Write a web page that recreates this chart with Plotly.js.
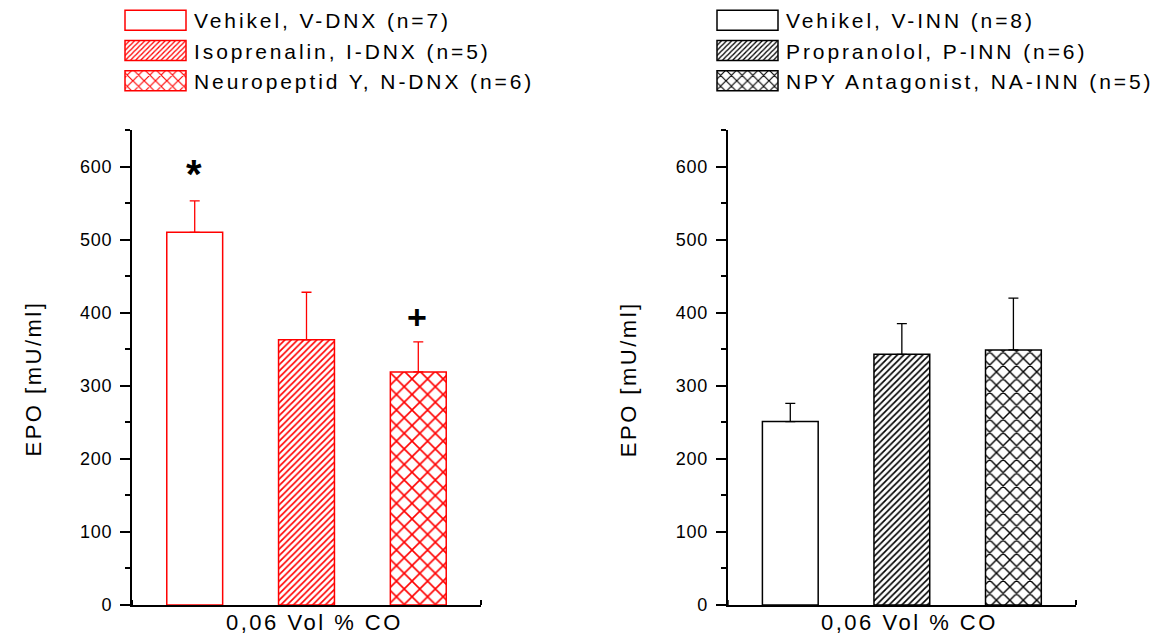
<!DOCTYPE html>
<html><head><meta charset="utf-8">
<script src="https://cdn.plot.ly/plotly-3.0.1.min.js"></script>
<style>
html,body{margin:0;padding:0;background:#fff;}
#chart{width:1162px;height:638px;}
.annotation-text{letter-spacing:2.5px;}
.ytick text,.y2tick text{letter-spacing:0.8px;}
</style></head><body><div id="chart"></div>
<script>
const FONT = 'Liberation Sans, Arial, Helvetica, sans-serif';
const xTitle = '0,06 Vol % CO';
const yTitle = 'EPO [mU/ml]';
const yTicks = [0, 100, 200, 300, 400, 500, 600];

const groupsDNX = ['Vehikel, V-DNX (n=7)', 'Isoprenalin, I-DNX (n=5)', 'Neuropeptid Y, N-DNX (n=6)'];
const meanDNX = [510, 363, 319];
const semDNX = [43, 65, 41];
const markDNX = ['*', '', '+'];

const groupsINN = ['Vehikel, V-INN (n=8)', 'Propranolol, P-INN (n=6)', 'NPY Antagonist, NA-INN (n=5)'];
const meanINN = [251, 343, 349];
const semINN = [25, 42, 71];
const markINN = ['', '', ''];

const patternShapes = ['', '/', 'x'];

function patternFor(shape, color) {
  if (shape === '/') return {shape: '/', fgcolor: color, bgcolor: 'white', size: 4.5, solidity: 0.36};
  if (shape === 'x') return {shape: 'x', fgcolor: color, bgcolor: 'white', size: color === '#ff0000' ? 11 : 9.5, solidity: 0.27};
  return {shape: ''};
}

function makeTraces(groups, means, sems, color, xa, ya, legend) {
  return groups.map((g, i) => ({
    type: 'bar', name: g, x: [i + 1], y: [means[i]], width: 0.5,
    xaxis: xa, yaxis: ya, legend: legend, hoverinfo: 'skip',
    marker: {
      color: 'white',
      line: {color: color, width: 1.5},
      pattern: patternFor(patternShapes[i], color)
    },
    error_y: {type: 'data', symmetric: false, array: [sems[i]], arrayminus: [0],
              color: color, thickness: 1.3, width: 5}
  }));
}

const data = [
  ...makeTraces(groupsDNX, meanDNX, semDNX, '#ff0000', 'x', 'y', 'legend'),
  ...makeTraces(groupsINN, meanINN, semINN, '#000000', 'x2', 'y2', 'legend2')
];

function markAnnots(marks, means, sems, xr, yr) {
  return marks.map((m, i) => m ? ({
    text: m, x: i + 1, y: means[i] + sems[i], xref: xr, yref: yr,
    yanchor: 'middle', yshift: m === '*' ? 27 : 25, showarrow: false,
    font: {family: FONT, size: m === '*' ? 40 : 34, color: 'black', weight: 'bold'}
  }) : null).filter(Boolean);
}

function titleAnnots(xr, yr) {
  return [
    {text: xTitle, xref: xr + ' domain', yref: yr + ' domain', x: 0.5, y: 0,
     yanchor: 'middle', xshift: 8, yshift: -17, showarrow: false,
     font: {family: FONT, size: 22, color: 'black'}},
    {text: yTitle, xref: xr + ' domain', yref: yr + ' domain', x: 0, y: 0.5,
     xanchor: 'center', yanchor: 'middle', xshift: -99.5, yshift: -11.5, textangle: -90,
     showarrow: false, font: {family: FONT, size: 22, color: 'black'}}
  ];
}

function xAxis(domain, anchor) {
  return {domain: domain, anchor: anchor, range: [0.439, 3.561], showline: true,
          linecolor: 'black', linewidth: 2, showticklabels: false, ticks: '',
          showgrid: false, zeroline: false, fixedrange: true, automargin: false};
}
function yAxis(domain, anchor) {
  return {domain: domain, anchor: anchor, range: [0, 650], tickmode: 'array', tickvals: yTicks,
          ticks: 'outside', ticklen: 10, tickwidth: 2, tickcolor: 'black',
          showline: true, linecolor: 'black', linewidth: 2, showgrid: false, zeroline: false,
          ticklabelstandoff: 4,
          minor: {dtick: 50, tick0: 0, ticks: 'outside', ticklen: 5, tickwidth: 2, tickcolor: 'black', showgrid: false},
          tickfont: {family: FONT, size: 18, color: 'black'}, fixedrange: true, automargin: false};
}

function endTicks(xr, yr) {
  return [0, 1].map(v => ({type: 'line', xref: xr + ' domain', yref: yr, x0: v, x1: v,
    ysizemode: 'pixel', yanchor: 0, y0: -5, y1: 5, line: {color: 'black', width: 2}}));
}

const legendBase = {font: {family: FONT, size: 21, color: 'black'}, itemwidth: 63,
  bgcolor: 'rgba(0,0,0,0)', borderwidth: 0, yanchor: 'top', y: 1, xanchor: 'left',
  tracegroupgap: 0, itemclick: false, itemdoubleclick: false};

const layout = {
  width: 1162, height: 638, margin: {l: 0, r: 0, t: 0, b: 0, pad: 0, autoexpand: false},
  paper_bgcolor: 'white', plot_bgcolor: 'rgba(0,0,0,0)',
  barmode: 'overlay', showlegend: true,
  font: {family: FONT, color: 'black'},
  xaxis: xAxis([132 / 1162, 481 / 1162], 'y'),
  yaxis: yAxis([33 / 638, 508 / 638], 'x'),
  xaxis2: xAxis([727.7 / 1162, 1076 / 1162], 'y2'),
  yaxis2: yAxis([33 / 638, 508 / 638], 'x2'),
  legend: Object.assign({}, legendBase, {x: 119 / 1162}),
  legend2: Object.assign({}, legendBase, {x: 711 / 1162}),
  annotations: [
    ...titleAnnots('x', 'y'), ...titleAnnots('x2', 'y2'),
    ...markAnnots(markDNX, meanDNX, semDNX, 'x', 'y'),
    ...markAnnots(markINN, meanINN, semINN, 'x2', 'y2')
  ],
  shapes: [...endTicks('x', 'y'), ...endTicks('x2', 'y2')]
};

const legendNames = groupsDNX.concat(groupsINN);

function styleLegends(gd) {
  gd.querySelectorAll('g.legendpoints path').forEach(p => {
    if ((p.getAttribute('d') || '').indexOf('M6,6') === 0) p.setAttribute('d', 'M30.5,10H-30.5V-10H30.5Z');
  });
  gd.querySelectorAll('text').forEach(t => {
    if (legendNames.indexOf(t.textContent) >= 0) {
      t.style.letterSpacing = '2.9px';
      t.setAttribute('letter-spacing', '2.9px');
      t.setAttribute('x', '75');
    }
  });
  gd.querySelectorAll('.infolayer [clip-path]').forEach(e => e.removeAttribute('clip-path'));
}

const gdiv = document.getElementById('chart');
Plotly.newPlot(gdiv, data, layout, {staticPlot: true, displayModeBar: false}).then(gd => {
  styleLegends(gd);
  gd.on('plotly_afterplot', () => styleLegends(gd));
  setTimeout(() => styleLegends(gd), 50);
  setTimeout(() => styleLegends(gd), 300);
});
</script></body></html>
